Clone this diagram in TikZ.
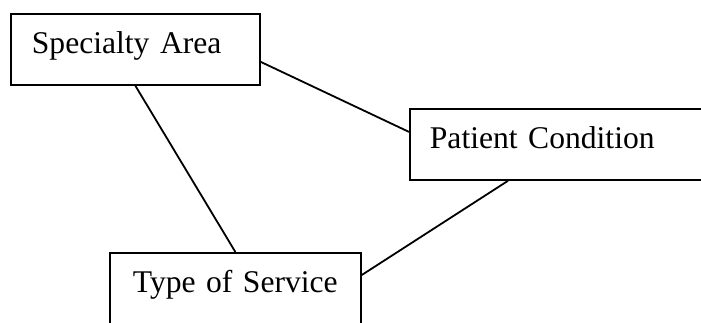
\documentclass[tikz,border=0pt]{standalone}
\usepackage{fontspec}
\setmainfont{Liberation Serif}
\usetikzlibrary{positioning}

\begin{document}
\begin{tikzpicture}[
  x=0.5pt, y=-0.5pt,
  font=\fontsize{15.8}{19}\selectfont,
  box/.style={rectangle, draw=black, line width=0.9pt, fill=white, anchor=north west,
              align=left, inner ysep=9pt, text height=11pt},
  link/.style={line width=0.9pt, black},
]
\clip (0,0) rectangle (701,322);

% the three boxes
\node[box, inner xsep=10.5pt, text width=103.5pt, text depth=6.5pt] (spec) at (10,13) {Specialty Area};
\node[box, inner xsep=10pt, text width=135.5pt, text depth=6.5pt] (cond) at (409,108) {Patient Condition};
\node[box, inner xsep=11.5pt, text width=102.5pt, text depth=15pt] (serv) at (109,252) {Type of Service};

% plain connectors
\draw[link] ([yshift=-6.25pt]spec.east) -- ([yshift=6.25pt]cond.west);
\draw[link] (spec.south) -- (serv.north);
\draw[link] ([xshift=49.5pt]cond.south west) -- ([yshift=-11.5pt]serv.north east);
\end{tikzpicture}
\end{document}
